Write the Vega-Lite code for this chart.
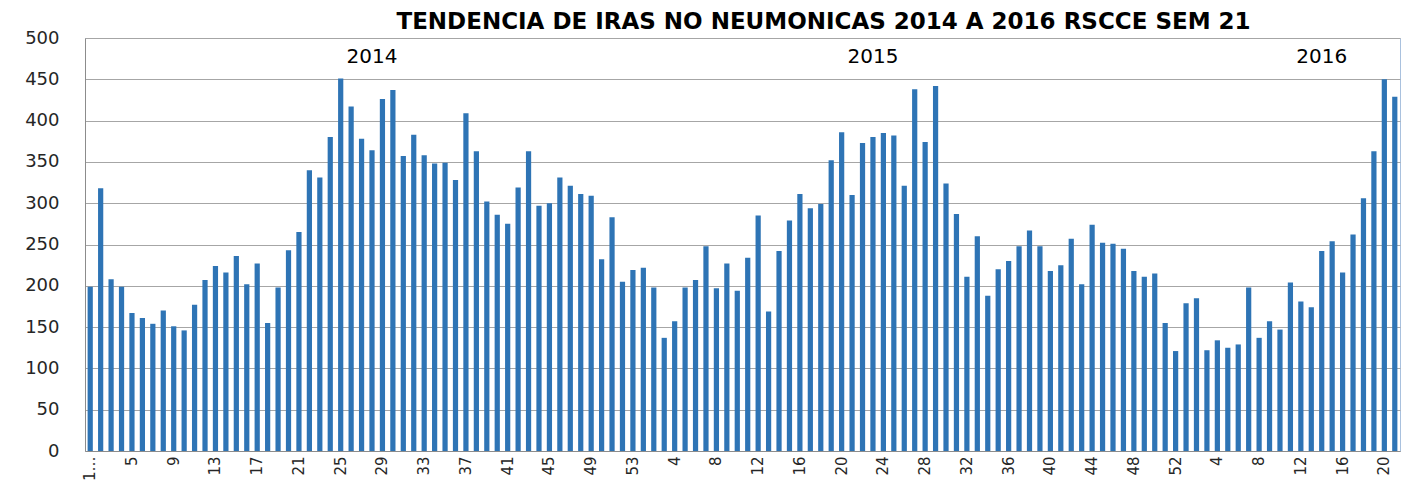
{
  "$schema": "https://vega.github.io/schema/vega-lite/v6.json",
  "width": 1315,
  "height": 413,
  "autosize": {"type": "none"},
  "padding": {"left": 85, "top": 38, "right": 3, "bottom": 30},
  "background": "white",
  "title": {
    "text": "TENDENCIA DE IRAS NO NEUMONICAS 2014 A 2016 RSCCE SEM 21",
    "font": "DejaVu Sans",
    "fontSize": 23,
    "fontWeight": "bold",
    "color": "#000000",
    "anchor": "middle",
    "dx": 81,
    "dy": 11,
    "offset": 6
  },
  "config": {
    "view": {"stroke": "#a9c1de", "strokeWidth": 1},
    "axis": {"gridColor": "#a6a6a6", "domainColor": "#8c8c8c", "labelColor": "#262626"}
  },
  "data": {
    "values": [
      {"key": "2014-1", "n": 199}, {"key": "2014-2", "n": 318}, {"key": "2014-3", "n": 208}, {"key": "2014-4", "n": 199},
      {"key": "2014-5", "n": 167}, {"key": "2014-6", "n": 161}, {"key": "2014-7", "n": 154}, {"key": "2014-8", "n": 170},
      {"key": "2014-9", "n": 151}, {"key": "2014-10", "n": 146}, {"key": "2014-11", "n": 177}, {"key": "2014-12", "n": 207},
      {"key": "2014-13", "n": 224}, {"key": "2014-14", "n": 216}, {"key": "2014-15", "n": 236}, {"key": "2014-16", "n": 202},
      {"key": "2014-17", "n": 227}, {"key": "2014-18", "n": 155}, {"key": "2014-19", "n": 198}, {"key": "2014-20", "n": 243},
      {"key": "2014-21", "n": 265}, {"key": "2014-22", "n": 340}, {"key": "2014-23", "n": 331}, {"key": "2014-24", "n": 380},
      {"key": "2014-25", "n": 451}, {"key": "2014-26", "n": 417}, {"key": "2014-27", "n": 378}, {"key": "2014-28", "n": 364, "yr": "2014"},
      {"key": "2014-29", "n": 426}, {"key": "2014-30", "n": 437}, {"key": "2014-31", "n": 357}, {"key": "2014-32", "n": 383},
      {"key": "2014-33", "n": 358}, {"key": "2014-34", "n": 348}, {"key": "2014-35", "n": 349}, {"key": "2014-36", "n": 328},
      {"key": "2014-37", "n": 409}, {"key": "2014-38", "n": 363}, {"key": "2014-39", "n": 302}, {"key": "2014-40", "n": 286},
      {"key": "2014-41", "n": 275}, {"key": "2014-42", "n": 319}, {"key": "2014-43", "n": 363}, {"key": "2014-44", "n": 297},
      {"key": "2014-45", "n": 300}, {"key": "2014-46", "n": 331}, {"key": "2014-47", "n": 321}, {"key": "2014-48", "n": 311},
      {"key": "2014-49", "n": 309}, {"key": "2014-50", "n": 232}, {"key": "2014-51", "n": 283}, {"key": "2014-52", "n": 205},
      {"key": "2014-53", "n": 219},
      {"key": "2015-1", "n": 222}, {"key": "2015-2", "n": 198}, {"key": "2015-3", "n": 137}, {"key": "2015-4", "n": 157},
      {"key": "2015-5", "n": 198}, {"key": "2015-6", "n": 207}, {"key": "2015-7", "n": 248}, {"key": "2015-8", "n": 197},
      {"key": "2015-9", "n": 227}, {"key": "2015-10", "n": 194}, {"key": "2015-11", "n": 234}, {"key": "2015-12", "n": 285},
      {"key": "2015-13", "n": 169}, {"key": "2015-14", "n": 242}, {"key": "2015-15", "n": 279}, {"key": "2015-16", "n": 311},
      {"key": "2015-17", "n": 294}, {"key": "2015-18", "n": 299}, {"key": "2015-19", "n": 352}, {"key": "2015-20", "n": 386},
      {"key": "2015-21", "n": 310}, {"key": "2015-22", "n": 373}, {"key": "2015-23", "n": 380, "yr": "2015"}, {"key": "2015-24", "n": 385},
      {"key": "2015-25", "n": 382}, {"key": "2015-26", "n": 321}, {"key": "2015-27", "n": 438}, {"key": "2015-28", "n": 374},
      {"key": "2015-29", "n": 442}, {"key": "2015-30", "n": 324}, {"key": "2015-31", "n": 287}, {"key": "2015-32", "n": 211},
      {"key": "2015-33", "n": 260}, {"key": "2015-34", "n": 188}, {"key": "2015-35", "n": 220}, {"key": "2015-36", "n": 230},
      {"key": "2015-37", "n": 248}, {"key": "2015-38", "n": 267}, {"key": "2015-39", "n": 248}, {"key": "2015-40", "n": 218},
      {"key": "2015-41", "n": 225}, {"key": "2015-42", "n": 257}, {"key": "2015-43", "n": 202}, {"key": "2015-44", "n": 274},
      {"key": "2015-45", "n": 252}, {"key": "2015-46", "n": 251}, {"key": "2015-47", "n": 245}, {"key": "2015-48", "n": 218},
      {"key": "2015-49", "n": 211}, {"key": "2015-50", "n": 215}, {"key": "2015-51", "n": 155}, {"key": "2015-52", "n": 121},
      {"key": "2016-1", "n": 179}, {"key": "2016-2", "n": 185}, {"key": "2016-3", "n": 122}, {"key": "2016-4", "n": 134},
      {"key": "2016-5", "n": 125}, {"key": "2016-6", "n": 129}, {"key": "2016-7", "n": 198}, {"key": "2016-8", "n": 137},
      {"key": "2016-9", "n": 157}, {"key": "2016-10", "n": 147}, {"key": "2016-11", "n": 204}, {"key": "2016-12", "n": 181},
      {"key": "2016-13", "n": 174}, {"key": "2016-14", "n": 242, "yr": "2016"}, {"key": "2016-15", "n": 254}, {"key": "2016-16", "n": 216},
      {"key": "2016-17", "n": 262}, {"key": "2016-18", "n": 306}, {"key": "2016-19", "n": 363}, {"key": "2016-20", "n": 450},
      {"key": "2016-21", "n": 429}
    ]
  },
  "layer": [
    {
      "mark": {"type": "bar", "color": "#2e74b5"},
      "encoding": {
        "x": {
          "field": "key",
          "type": "ordinal",
          "sort": null,
          "scale": {"paddingInner": 0.5, "paddingOuter": 0.25},
          "axis": {
            "title": null,
            "values": ["2014-1", "2014-5", "2014-9", "2014-13", "2014-17", "2014-21", "2014-25", "2014-29", "2014-33", "2014-37", "2014-41", "2014-45", "2014-49", "2014-53", "2015-4", "2015-8", "2015-12", "2015-16", "2015-20", "2015-24", "2015-28", "2015-32", "2015-36", "2015-40", "2015-44", "2015-48", "2015-52", "2016-4", "2016-8", "2016-12", "2016-16", "2016-20"],
            "labelExpr": "datum.value == '2014-1' ? '1…' : split(datum.value, '-')[1]",
            "labelAngle": -90,
            "labelFont": "DejaVu Sans",
            "labelFontSize": 15,
            "labelPadding": 5,
            "ticks": false,
            "grid": false
          }
        },
        "y": {
          "field": "n",
          "type": "quantitative",
          "scale": {"domain": [0, 500], "nice": false},
          "axis": {
            "title": null,
            "values": [0, 50, 100, 150, 200, 250, 300, 350, 400, 450, 500],
            "labelFont": "DejaVu Sans",
            "labelFontSize": 18,
            "labelPadding": 26,
            "ticks": false,
            "grid": true
          }
        }
      }
    },
    {
      "transform": [{"filter": "datum.yr"}],
      "mark": {"type": "text", "font": "DejaVu Sans", "fontSize": 20, "color": "#000000", "baseline": "middle"},
      "encoding": {
        "x": {"field": "key", "type": "ordinal", "sort": null},
        "y": {"datum": 477, "type": "quantitative"},
        "text": {"field": "yr"}
      }
    }
  ]
}
